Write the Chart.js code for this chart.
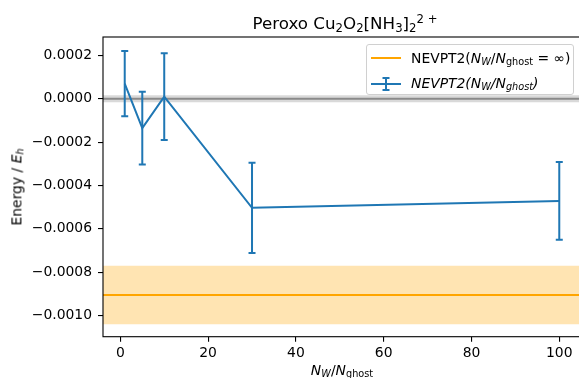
<!DOCTYPE html>
<html>
<head>
<meta charset="utf-8">
<script src="https://cdn.jsdelivr.net/npm/chart.js@4/dist/chart.umd.min.js"></script>
<style>
  body { margin: 0; width: 579px; height: 378px; overflow: hidden; background: #fff; position: relative; font-family: "DejaVu Sans", sans-serif; }
  #wrap { position: absolute; left: 0; top: 0; width: 583px; height: 378px; }
  .lbl { position: absolute; white-space: nowrap; color: #000; line-height: 1; }
  .sub { font-size: 0.7em; vertical-align: -0.25em; }
  .sup { font-size: 0.7em; vertical-align: 0.55em; }
  #title { font-size: 16.7px; left: 345px; top: 14px; transform: translateX(-50%); }
  #ylab { font-size: 13.9px; left: 18px; top: 187px; transform: translate(-50%, -50%) rotate(-90deg); }
  #xlab { font-size: 13.9px; left: 342px; top: 364px; transform: translateX(-50%); }
  #legend { position: absolute; left: 366px; top: 44px; width: 206px; height: 49px; background: rgba(255,255,255,0.8); border: 1px solid #d0d0d0; border-radius: 3px; }
  .row { position: absolute; left: 3px; font-size: 13.9px; white-space: nowrap; }
  .row svg { position: absolute; left: 0; top: 0; }
  .row span.t { position: absolute; left: 41px; top: 0; }
</style>
</head>
<body>
<div id="wrap"><canvas id="chart" width="583" height="378"></canvas></div>

<div class="lbl" id="title">Peroxo Cu<span class="sub">2</span>O<span class="sub">2</span>[NH<span class="sub">3</span>]<span class="sub">2</span><span class="sup">2 +</span></div>
<div class="lbl" id="ylab">Energy / <i>E<span class="sub">h</span></i></div>
<div class="lbl" id="xlab"><i>N<span class="sub">W</span></i>/<i>N</i><span class="sub">ghost</span></div>

<div id="legend">
  <div class="row" style="top:5px;">
    <svg width="34" height="16"><line x1="1" y1="8" x2="31" y2="8" stroke="#ffa500" stroke-width="2"/></svg>
    <span class="t">NEVPT2(<i>N<span class="sub">W</span></i>/<i>N</i><span class="sub">ghost</span> = ∞)</span>
  </div>
  <div class="row" style="top:30px;">
    <svg width="34" height="18"><line x1="1" y1="9" x2="31" y2="9" stroke="#1f77b4" stroke-width="2"/><line x1="16" y1="3" x2="16" y2="15" stroke="#1f77b4" stroke-width="2"/><line x1="12.5" y1="3" x2="19.5" y2="3" stroke="#1f77b4" stroke-width="2"/><line x1="12.5" y1="15" x2="19.5" y2="15" stroke="#1f77b4" stroke-width="2"/></svg>
    <span class="t"><i>NEVPT2(N<span class="sub">W</span>/N<span class="sub">ghost</span>)</i></span>
  </div>
</div>

<script>
// Werte
const ratios = [1, 5, 10, 30, 100];
const energies = [0.00007, -0.000135, 0.00001, -0.000503, -0.000471];
const errors = [0.00015, 0.000168, 0.0002, 0.000208, 0.000179];

const refEnergy = -0.000905;
const refError = 0.000135;
const zeroWidth = 0.000016;

const xTicks = [0, 20, 40, 60, 80, 100];
const yTicks = [0.0002, 0, -0.0002, -0.0004, -0.0006, -0.0008, -0.0010];
const xLim = [-3.95, 104.95];
const yLim = [-0.0010974, 0.000285];

const blue = '#1f77b4';
const orange = '#ffa500';

Chart.defaults.font.family = 'DejaVu Sans';

// horizontale Linie über die ganze Achse
function hline(y) {
    return [{ x: xLim[0], y: y }, { x: xLim[1], y: y }];
}

// Fehlerbalken zeichnen
const errorBars = {
    id: 'errorBars',
    afterDatasetsDraw(chart) {
        const ctx = chart.ctx;
        const xs = chart.scales.x, ys = chart.scales.y;
        ctx.save();
        ctx.strokeStyle = blue;
        ctx.lineWidth = 2;
        ratios.forEach((r, i) => {
            const px = xs.getPixelForValue(r);
            const top = ys.getPixelForValue(energies[i] + errors[i]);
            const bot = ys.getPixelForValue(energies[i] - errors[i]);
            ctx.beginPath();
            ctx.moveTo(px, top); ctx.lineTo(px, bot);
            ctx.moveTo(px - 3.5, top); ctx.lineTo(px + 3.5, top);
            ctx.moveTo(px - 3.5, bot); ctx.lineTo(px + 3.5, bot);
            ctx.stroke();
        });
        ctx.restore();
    }
};

// Rahmen um den Plotbereich
const frame = {
    id: 'frame',
    afterDraw(chart) {
        const a = chart.chartArea;
        const ctx = chart.ctx;
        ctx.save();
        ctx.strokeStyle = '#000';
        ctx.lineWidth = 1.1;
        ctx.strokeRect(a.left, a.top, a.right - a.left, a.bottom - a.top);
        ctx.restore();
    }
};

const ctx = document.getElementById('chart').getContext('2d');
new Chart(ctx, {
    type: 'scatter',
    data: {
        datasets: [
            {
                data: ratios.map((r, i) => ({ x: r, y: energies[i] })),
                showLine: true, borderColor: blue, borderWidth: 2, pointRadius: 0, order: 1
            },
            {
                data: hline(refEnergy),
                showLine: true, borderColor: orange, borderWidth: 2, pointRadius: 0, order: 2
            },
            {
                data: hline(0),
                showLine: true, borderColor: '#8a8a8a', borderWidth: 2, pointRadius: 0, order: 3
            },
            {
                data: hline(refEnergy + refError),
                showLine: true, borderColor: 'transparent', pointRadius: 0,
                fill: { value: refEnergy - refError }, backgroundColor: 'rgba(255,165,0,0.3)', order: 5
            },
            {
                data: hline(zeroWidth),
                showLine: true, borderColor: 'transparent', pointRadius: 0,
                fill: { value: -zeroWidth }, backgroundColor: 'rgba(128,128,128,0.3)', order: 4
            }
        ]
    },
    options: {
        responsive: false,
        animation: false,
        layout: { padding: { top: 37, right: 2, left: 0, bottom: 0 } },
        plugins: { legend: { display: false }, tooltip: { enabled: false } },
        scales: {
            x: {
                type: 'linear', min: xLim[0], max: xLim[1],
                afterBuildTicks: axis => { axis.ticks = xTicks.map(v => ({ value: v })); },
                afterFit: axis => { axis.height = 41.3; },
                ticks: { color: '#000', font: { size: 13.9 }, padding: 3, maxRotation: 0, autoSkip: false },
                grid: { drawOnChartArea: false, drawTicks: true, tickLength: 5, color: '#000', lineWidth: 1.1 },
                border: { display: false }
            },
            y: {
                type: 'linear', min: yLim[0], max: yLim[1],
                afterBuildTicks: axis => { axis.ticks = yTicks.map(v => ({ value: v })); },
                afterFit: axis => { axis.width = 103; },
                ticks: {
                    color: '#000', font: { size: 13.9 }, padding: 6, autoSkip: false,
                    callback: v => (v < -1e-12 ? '\u2212' : '') + Math.abs(v).toFixed(4)
                },
                grid: { drawOnChartArea: false, drawTicks: true, tickLength: 5, color: '#000', lineWidth: 1.1 },
                border: { display: false }
            }
        }
    },
    plugins: [errorBars, frame]
});
</script>
</body>
</html>
